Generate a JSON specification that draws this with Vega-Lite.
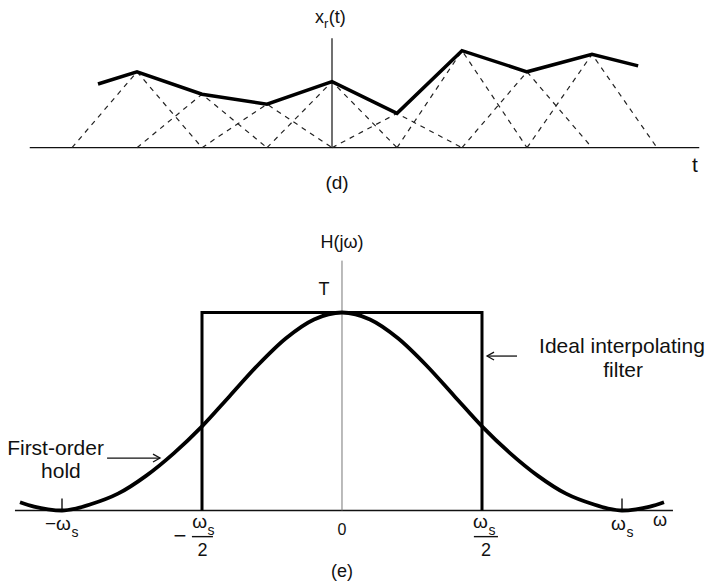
{
  "$schema": "https://vega.github.io/schema/vega-lite/v6.json",
  "padding": 0,
  "spacing": 0,
  "background": "white",
  "config": {"view": {"stroke": null}, "text": {"font": "Liberation Sans", "color": "#111"}},
  "resolve": {"scale": {"x": "independent", "y": "independent"}},
  "datasets": {
    "tri": [
      {"id": -3, "t": -4, "v": 0}, {"id": -3, "t": -3, "v": 2.30}, {"id": -3, "t": -2, "v": 0},
      {"id": -2, "t": -3, "v": 0}, {"id": -2, "t": -2, "v": 1.62}, {"id": -2, "t": -1, "v": 0},
      {"id": -1, "t": -2, "v": 0}, {"id": -1, "t": -1, "v": 1.32}, {"id": -1, "t": 0, "v": 0},
      {"id": 0, "t": -1, "v": 0}, {"id": 0, "t": 0, "v": 2.00}, {"id": 0, "t": 1, "v": 0},
      {"id": 1, "t": 0, "v": 0}, {"id": 1, "t": 1, "v": 1.04}, {"id": 1, "t": 2, "v": 0},
      {"id": 2, "t": 1, "v": 0}, {"id": 2, "t": 2, "v": 2.94}, {"id": 2, "t": 3, "v": 0},
      {"id": 3, "t": 2, "v": 0}, {"id": 3, "t": 3, "v": 2.30}, {"id": 3, "t": 4, "v": 0},
      {"id": 4, "t": 3, "v": 0}, {"id": 4, "t": 4, "v": 2.83}, {"id": 4, "t": 5, "v": 0}
    ],
    "xr": [
      {"t": -3.6, "v": 1.93}, {"t": -3, "v": 2.30}, {"t": -2, "v": 1.62}, {"t": -1, "v": 1.32},
      {"t": 0, "v": 2.00}, {"t": 1, "v": 1.04}, {"t": 2, "v": 2.94}, {"t": 3, "v": 2.30},
      {"t": 4, "v": 2.83}, {"t": 4.71, "v": 2.48}
    ],
    "topAxes": [
      {"x": -4.65, "x2": 5.65, "y": 0, "y2": 0},
      {"x": 0, "x2": 0, "y": 0, "y2": 3.32}
    ],
    "topText": [
      {"x": -0.123, "y": 3.77, "label": "x", "kind": "main"},
      {"x": -0.123, "y": 3.77, "label": "r", "kind": "sub"},
      {"x": -0.051, "y": 3.77, "label": "(t)", "kind": "after"},
      {"x": 0.077, "y": -1.25, "label": "(d)", "kind": "title"},
      {"x": 5.585, "y": -0.736, "label": "t", "kind": "note"}
    ],
    "curve": [
      {"w": -1.15, "h": 0.042}, {"w": -1.1, "h": 0.02}, {"w": -1.05, "h": 0.006}, {"w": -1.0, "h": 0.0},
      {"w": -0.95, "h": 0.01}, {"w": -0.9, "h": 0.03}, {"w": -0.8, "h": 0.085}, {"w": -0.7, "h": 0.175},
      {"w": -0.6, "h": 0.29}, {"w": -0.5, "h": 0.425}, {"w": -0.4, "h": 0.58}, {"w": -0.3, "h": 0.735},
      {"w": -0.2, "h": 0.87}, {"w": -0.1, "h": 0.965}, {"w": 0, "h": 1.0}, {"w": 0.1, "h": 0.965},
      {"w": 0.2, "h": 0.87}, {"w": 0.3, "h": 0.735}, {"w": 0.4, "h": 0.58}, {"w": 0.5, "h": 0.425},
      {"w": 0.6, "h": 0.29}, {"w": 0.7, "h": 0.175}, {"w": 0.8, "h": 0.085}, {"w": 0.9, "h": 0.03},
      {"w": 0.95, "h": 0.01}, {"w": 1.0, "h": 0.0}, {"w": 1.05, "h": 0.006}, {"w": 1.1, "h": 0.02},
      {"w": 1.15, "h": 0.042}
    ],
    "ideal": [
      {"i": 0, "w": -0.5, "h": 0}, {"i": 1, "w": -0.5, "h": 1}, {"i": 2, "w": 0.5, "h": 1}, {"i": 3, "w": 0.5, "h": 0}
    ],
    "arrows": [
      {"seg": "a1", "i": 0, "w": 0.625, "h": 0.78}, {"seg": "a1", "i": 1, "w": 0.518, "h": 0.78},
      {"seg": "a1h", "i": 0, "w": 0.543, "h": 0.80}, {"seg": "a1h", "i": 1, "w": 0.518, "h": 0.78}, {"seg": "a1h", "i": 2, "w": 0.543, "h": 0.76},
      {"seg": "a2", "i": 0, "w": -0.839, "h": 0.265}, {"seg": "a2", "i": 1, "w": -0.65, "h": 0.265},
      {"seg": "a2h", "i": 0, "w": -0.675, "h": 0.285}, {"seg": "a2h", "i": 1, "w": -0.65, "h": 0.265}, {"seg": "a2h", "i": 2, "w": -0.675, "h": 0.245}
    ],
    "botAxes": [
      {"x": -1.168, "x2": 1.182, "y": 0, "y2": 0, "kind": "h"},
      {"x": 0, "x2": 0, "y": 0, "y2": 1.262, "kind": "v"},
      {"x": -1, "x2": -1, "y": 0, "y2": 0.06, "kind": "t"},
      {"x": 1, "x2": 1, "y": 0, "y2": 0.06, "kind": "t"},
      {"x": -0.536, "x2": -0.461, "y": -0.132, "y2": -0.132, "kind": "t"},
      {"x": 0.471, "x2": 0.557, "y": -0.132, "y2": -0.132, "kind": "t"}
    ],
    "botText": [
      {"x": -0.968, "y": -0.0985, "label": "−ω", "kind": "main"},
      {"x": -0.968, "y": -0.0985, "label": "s", "kind": "sub"},
      {"x": -0.482, "y": -0.088, "label": "ω", "kind": "main"},
      {"x": -0.482, "y": -0.088, "label": "s", "kind": "sub"},
      {"x": 0.521, "y": -0.088, "label": "ω", "kind": "main"},
      {"x": 0.521, "y": -0.088, "label": "s", "kind": "sub"},
      {"x": 1.014, "y": -0.0985, "label": "ω", "kind": "main"},
      {"x": 1.014, "y": -0.0985, "label": "s", "kind": "sub"},
      {"x": 0, "y": -0.124, "label": "0", "kind": "zero"},
      {"x": -0.498, "y": -0.23, "label": "2", "kind": "tick"},
      {"x": 0.514, "y": -0.23, "label": "2", "kind": "tick"},
      {"x": 1.136, "y": -0.078, "label": "ω", "kind": "tick"},
      {"x": -0.579, "y": -0.129, "label": "−", "kind": "minus"},
      {"x": 0, "y": -0.336, "label": "(e)", "kind": "title"},
      {"x": 0, "y": 1.326, "label": "H(jω)", "kind": "title"},
      {"x": -0.064, "y": 1.088, "label": "T", "kind": "title"},
      {"x": 1.0, "y": 0.795, "label": "Ideal interpolating", "kind": "note"},
      {"x": 1.004, "y": 0.674, "label": "filter", "kind": "note"},
      {"x": -1.023, "y": 0.28, "label": "First-order", "kind": "note"},
      {"x": -1.004, "y": 0.164, "label": "hold", "kind": "note"}
    ]
  },
  "vconcat": [
    {
      "width": 710,
      "height": 200,
      "encoding": {
        "x": {"type": "quantitative", "scale": {"domain": [-5.1077, 5.8154], "nice": false, "zero": false}, "axis": null},
        "y": {"type": "quantitative", "scale": {"domain": [-1.585, 4.476], "nice": false, "zero": false}, "axis": null}
      },
      "layer": [
        {
          "data": {"name": "topAxes"},
          "mark": {"type": "rule", "color": "#111", "strokeWidth": 1.2},
          "encoding": {
            "x": {"field": "x", "type": "quantitative"},
            "x2": {"field": "x2"},
            "y": {"field": "y", "type": "quantitative"},
            "y2": {"field": "y2"}
          }
        },
        {
          "data": {"name": "tri"},
          "mark": {"type": "line", "color": "#222", "strokeWidth": 1.2, "strokeDash": [5, 5]},
          "encoding": {
            "x": {"field": "t", "type": "quantitative"},
            "y": {"field": "v", "type": "quantitative"},
            "detail": {"field": "id", "type": "nominal"}
          }
        },
        {
          "data": {"name": "xr"},
          "mark": {"type": "line", "color": "#000", "strokeWidth": 3.5, "strokeJoin": "miter"},
          "encoding": {
            "x": {"field": "t", "type": "quantitative"},
            "y": {"field": "v", "type": "quantitative"}
          }
        },
        {
          "data": {"name": "topText"},
          "transform": [{"filter": "datum.kind === 'main'"}],
          "mark": {"type": "text", "fontSize": 18, "align": "right", "baseline": "alphabetic"},
          "encoding": {
            "x": {"field": "x", "type": "quantitative"},
            "y": {"field": "y", "type": "quantitative"},
            "text": {"field": "label"}
          }
        },
        {
          "data": {"name": "topText"},
          "transform": [{"filter": "datum.kind === 'sub'"}],
          "mark": {"type": "text", "fontSize": 13, "align": "left", "baseline": "alphabetic", "dy": 5},
          "encoding": {
            "x": {"field": "x", "type": "quantitative"},
            "y": {"field": "y", "type": "quantitative"},
            "text": {"field": "label"}
          }
        },
        {
          "data": {"name": "topText"},
          "transform": [{"filter": "datum.kind === 'after'"}],
          "mark": {"type": "text", "fontSize": 18, "align": "left", "baseline": "alphabetic"},
          "encoding": {
            "x": {"field": "x", "type": "quantitative"},
            "y": {"field": "y", "type": "quantitative"},
            "text": {"field": "label"}
          }
        },
        {
          "data": {"name": "topText"},
          "transform": [{"filter": "datum.kind === 'title'"}],
          "mark": {"type": "text", "fontSize": 19, "align": "center", "baseline": "alphabetic"},
          "encoding": {
            "x": {"field": "x", "type": "quantitative"},
            "y": {"field": "y", "type": "quantitative"},
            "text": {"field": "label"}
          }
        },
        {
          "data": {"name": "topText"},
          "transform": [{"filter": "datum.kind === 'note'"}],
          "mark": {"type": "text", "fontSize": 21, "align": "center", "baseline": "alphabetic"},
          "encoding": {
            "x": {"field": "x", "type": "quantitative"},
            "y": {"field": "y", "type": "quantitative"},
            "text": {"field": "label"}
          }
        }
      ]
    },
    {
      "width": 710,
      "height": 383,
      "encoding": {
        "x": {"type": "quantitative", "scale": {"domain": [-1.22143, 1.31429], "nice": false, "zero": false}, "axis": null},
        "y": {"type": "quantitative", "scale": {"domain": [-0.3662, 1.5682], "nice": false, "zero": false}, "axis": null}
      },
      "layer": [
        {
          "data": {"name": "botAxes"},
          "transform": [{"filter": "datum.kind === 'h' || datum.kind === 't'"}],
          "mark": {"type": "rule", "color": "#111", "strokeWidth": 1.4},
          "encoding": {
            "x": {"field": "x", "type": "quantitative"},
            "x2": {"field": "x2"},
            "y": {"field": "y", "type": "quantitative"},
            "y2": {"field": "y2"}
          }
        },
        {
          "data": {"name": "botAxes"},
          "transform": [{"filter": "datum.kind === 'v'"}],
          "mark": {"type": "rule", "color": "#777", "strokeWidth": 1},
          "encoding": {
            "x": {"field": "x", "type": "quantitative"},
            "x2": {"field": "x2"},
            "y": {"field": "y", "type": "quantitative"},
            "y2": {"field": "y2"}
          }
        },
        {
          "data": {"name": "ideal"},
          "mark": {"type": "line", "color": "#000", "strokeWidth": 3, "strokeJoin": "miter"},
          "encoding": {
            "x": {"field": "w", "type": "quantitative"},
            "y": {"field": "h", "type": "quantitative"},
            "order": {"field": "i", "type": "quantitative"}
          }
        },
        {
          "data": {"name": "curve"},
          "mark": {"type": "line", "color": "#000", "strokeWidth": 3.8, "interpolate": "monotone"},
          "encoding": {
            "x": {"field": "w", "type": "quantitative"},
            "y": {"field": "h", "type": "quantitative"}
          }
        },
        {
          "data": {"name": "arrows"},
          "mark": {"type": "line", "color": "#111", "strokeWidth": 1.3},
          "encoding": {
            "x": {"field": "w", "type": "quantitative"},
            "y": {"field": "h", "type": "quantitative"},
            "detail": {"field": "seg", "type": "nominal"},
            "order": {"field": "i", "type": "quantitative"}
          }
        },
        {
          "data": {"name": "botText"},
          "transform": [{"filter": "datum.kind === 'main'"}],
          "mark": {"type": "text", "fontSize": 19, "align": "right", "baseline": "alphabetic"},
          "encoding": {
            "x": {"field": "x", "type": "quantitative"},
            "y": {"field": "y", "type": "quantitative"},
            "text": {"field": "label"}
          }
        },
        {
          "data": {"name": "botText"},
          "transform": [{"filter": "datum.kind === 'sub'"}],
          "mark": {"type": "text", "fontSize": 14, "align": "left", "baseline": "alphabetic", "dy": 7, "dx": 0.5},
          "encoding": {
            "x": {"field": "x", "type": "quantitative"},
            "y": {"field": "y", "type": "quantitative"},
            "text": {"field": "label"}
          }
        },
        {
          "data": {"name": "botText"},
          "transform": [{"filter": "datum.kind === 'tick'"}],
          "mark": {"type": "text", "fontSize": 18, "align": "center", "baseline": "alphabetic"},
          "encoding": {
            "x": {"field": "x", "type": "quantitative"},
            "y": {"field": "y", "type": "quantitative"},
            "text": {"field": "label"}
          }
        },
        {
          "data": {"name": "botText"},
          "transform": [{"filter": "datum.kind === 'zero'"}],
          "mark": {"type": "text", "fontSize": 16, "align": "center", "baseline": "alphabetic"},
          "encoding": {
            "x": {"field": "x", "type": "quantitative"},
            "y": {"field": "y", "type": "quantitative"},
            "text": {"field": "label"}
          }
        },
        {
          "data": {"name": "botText"},
          "transform": [{"filter": "datum.kind === 'minus'"}],
          "mark": {"type": "text", "fontSize": 22, "align": "center", "baseline": "middle"},
          "encoding": {
            "x": {"field": "x", "type": "quantitative"},
            "y": {"field": "y", "type": "quantitative"},
            "text": {"field": "label"}
          }
        },
        {
          "data": {"name": "botText"},
          "transform": [{"filter": "datum.kind === 'title'"}],
          "mark": {"type": "text", "fontSize": 18, "align": "center", "baseline": "alphabetic"},
          "encoding": {
            "x": {"field": "x", "type": "quantitative"},
            "y": {"field": "y", "type": "quantitative"},
            "text": {"field": "label"}
          }
        },
        {
          "data": {"name": "botText"},
          "transform": [{"filter": "datum.kind === 'note'"}],
          "mark": {"type": "text", "fontSize": 21, "align": "center", "baseline": "alphabetic"},
          "encoding": {
            "x": {"field": "x", "type": "quantitative"},
            "y": {"field": "y", "type": "quantitative"},
            "text": {"field": "label"}
          }
        }
      ]
    }
  ]
}
